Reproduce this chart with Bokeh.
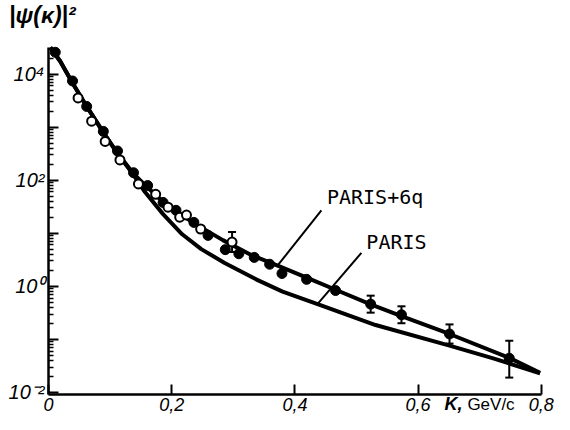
from bokeh.plotting import figure
from bokeh.models import (FixedTicker, Label, Whisker, ColumnDataSource, TeeHead,
                          Range1d, LinearAxis, LogAxis)
from bokeh.embed import file_html
from bokeh.resources import INLINE

# ---- curves ----
k_paris6q = [0.003, 0.019, 0.039, 0.062, 0.089, 0.112, 0.138, 0.161, 0.189, 0.236,
             0.283, 0.329, 0.376, 0.422, 0.469, 0.523, 0.573, 0.651, 0.748, 0.798]
psi_paris6q = [31600, 17400, 6760, 2450, 794, 324, 132, 72.4, 36.3, 15.5,
               7.41, 3.89, 2.34, 1.41, 0.832, 0.457, 0.275, 0.126, 0.0447, 0.0234]

k_paris = [0.003, 0.019, 0.039, 0.062, 0.089, 0.112, 0.138, 0.155, 0.186, 0.217,
           0.248, 0.286, 0.337, 0.380, 0.438, 0.531, 0.651, 0.722, 0.798]
psi_paris = [31600, 17400, 6760, 2450, 794, 316, 126, 63.1, 22.9, 9.55,
             5.01, 2.75, 1.35, 0.794, 0.457, 0.186, 0.0759, 0.0437, 0.0229]

# ---- data points ----
k_filled = [0.011, 0.039, 0.062, 0.089, 0.112, 0.138, 0.161, 0.186, 0.207, 0.236,
            0.259, 0.287, 0.309, 0.334, 0.359, 0.379, 0.419, 0.466, 0.523, 0.573,
            0.651, 0.748]
psi_filled = [25700, 7400, 2450, 830, 355, 138, 79, 38, 27, 16,
              9.1, 4.9, 4.1, 3.5, 2.6, 1.74, 1.35, 0.83, 0.46, 0.29,
              0.126, 0.044]

k_open = [0.048, 0.070, 0.092, 0.116, 0.146, 0.174, 0.194, 0.213, 0.224, 0.247, 0.298]
psi_open = [3550, 1290, 537, 240, 85, 54, 31, 20, 22, 12, 6.8]

# ---- error bars ----
k_err = [0.298, 0.523, 0.573, 0.651, 0.748]
psi_err_lo = [4.4, 0.318, 0.201, 0.0832, 0.0190]
psi_err_hi = [10.5, 0.665, 0.419, 0.191, 0.094]

# ---- ticks ----
x_ticks = [0, 0.2, 0.4, 0.6, 0.8]
x_tick_labels = ["0", "0,2", "0,4", "0,6", "0,8"]
y_ticks = [1e-2, 1e-1, 1e0, 1e1, 1e2, 1e3, 1e4]
y_tick_labels = ["10\u207b\u00b2", "", "10\u2070", "", "10\u00b2", "", "10\u2074"]

# ---- annotation leaders ----
lead6q_k = [0.443, 0.373]
lead6q_psi = [26.9, 2.55]
leadp_k = [0.508, 0.438]
leadp_psi = [4.27, 0.479]

FONT = "Liberation Sans"
Y_MIN, Y_MAX = 10 ** -2.04, 10 ** 4.5

p = figure(width=554, height=414,
           x_range=Range1d(-0.07792, 0.82143), y_range=Range1d(10 ** -2.417, 10 ** 5.386),
           y_axis_type="log", x_axis_location=None, y_axis_location=None,
           output_backend="svg", toolbar_location=None,
           min_border_left=0, min_border_right=0, min_border_top=0, min_border_bottom=0)
p.outline_line_color = None
p.grid.visible = False
p.background_fill_color = "white"
p.border_fill_color = "white"

xaxis = LinearAxis(fixed_location=Y_MIN, bounds=(0, 0.8),
                   ticker=FixedTicker(ticks=x_ticks, minor_ticks=[]))
xaxis.major_label_overrides = {t: l for t, l in zip(x_ticks, x_tick_labels)}
minor = [m * 10.0 ** e for e in range(-2, 5) for m in range(2, 10) if m * 10.0 ** e < Y_MAX]
yaxis = LogAxis(fixed_location=0, bounds=(Y_MIN, Y_MAX),
                ticker=FixedTicker(ticks=y_ticks, minor_ticks=minor))
yaxis.major_label_overrides = {t: l for t, l in zip(y_ticks, y_tick_labels)}

for ax in (xaxis, yaxis):
    ax.axis_line_width = 2.5
    ax.axis_line_color = "black"
    ax.major_tick_in = 10
    ax.major_tick_out = 0
    ax.minor_tick_in = 5
    ax.minor_tick_out = 0
    ax.major_tick_line_width = 2
    ax.minor_tick_line_width = 1.5
    ax.major_tick_line_color = "black"
    ax.minor_tick_line_color = "black"
    ax.major_label_text_font = FONT
    ax.major_label_text_font_style = "italic"
    ax.major_label_text_color = "black"
xaxis.major_label_text_font_size = "18px"
yaxis.major_label_text_font_size = "20px"
xaxis.major_label_standoff = 4
yaxis.major_label_standoff = 4
p.add_layout(xaxis, "below")
p.add_layout(yaxis, "left")

# curves
p.line(k_paris, psi_paris, line_width=4, line_color="black")
p.line(k_paris6q, psi_paris6q, line_width=4, line_color="black")

# leaders
p.line(lead6q_k, lead6q_psi, line_width=2, line_color="black")
p.line(leadp_k, leadp_psi, line_width=2, line_color="black")

# error bars
err_src = ColumnDataSource(dict(k=k_err, lo=psi_err_lo, hi=psi_err_hi))
p.add_layout(Whisker(source=err_src, base="k", lower="lo", upper="hi",
                     dimension="height", line_width=2, line_color="black",
                     upper_head=TeeHead(size=8, line_width=2, line_color="black"),
                     lower_head=TeeHead(size=8, line_width=2, line_color="black")))

# points
p.scatter(k_filled, psi_filled, size=10, marker="circle", fill_color="black", line_color="black")
p.scatter(k_open, psi_open, size=9, marker="circle", fill_color="white", line_color="black",
          line_width=2)

# texts
p.add_layout(Label(x=0.452, y=10 ** 1.45, text="PARIS+6q", text_font="DejaVu Sans Mono",
                   text_font_size="20px", text_color="black"))
p.add_layout(Label(x=0.516, y=10 ** 0.60, text="PARIS", text_font="DejaVu Sans Mono",
                   text_font_size="20px", text_color="black"))
p.add_layout(Label(x=-0.064, y=10 ** 4.86, text="|\u03c8(\u03ba)|\u00b2", text_font=FONT,
                   text_font_style="bold italic", text_font_size="23px", text_color="black"))
p.add_layout(Label(x=0.643, y=10 ** -2.41, text="K,", text_font=FONT,
                   text_font_style="bold italic", text_font_size="18px", text_color="black"))
p.add_layout(Label(x=0.680, y=10 ** -2.41, text="GeV/c", text_font=FONT,
                   text_font_size="17px", text_color="black"))

open("out.html", "w").write(file_html(p, INLINE))
